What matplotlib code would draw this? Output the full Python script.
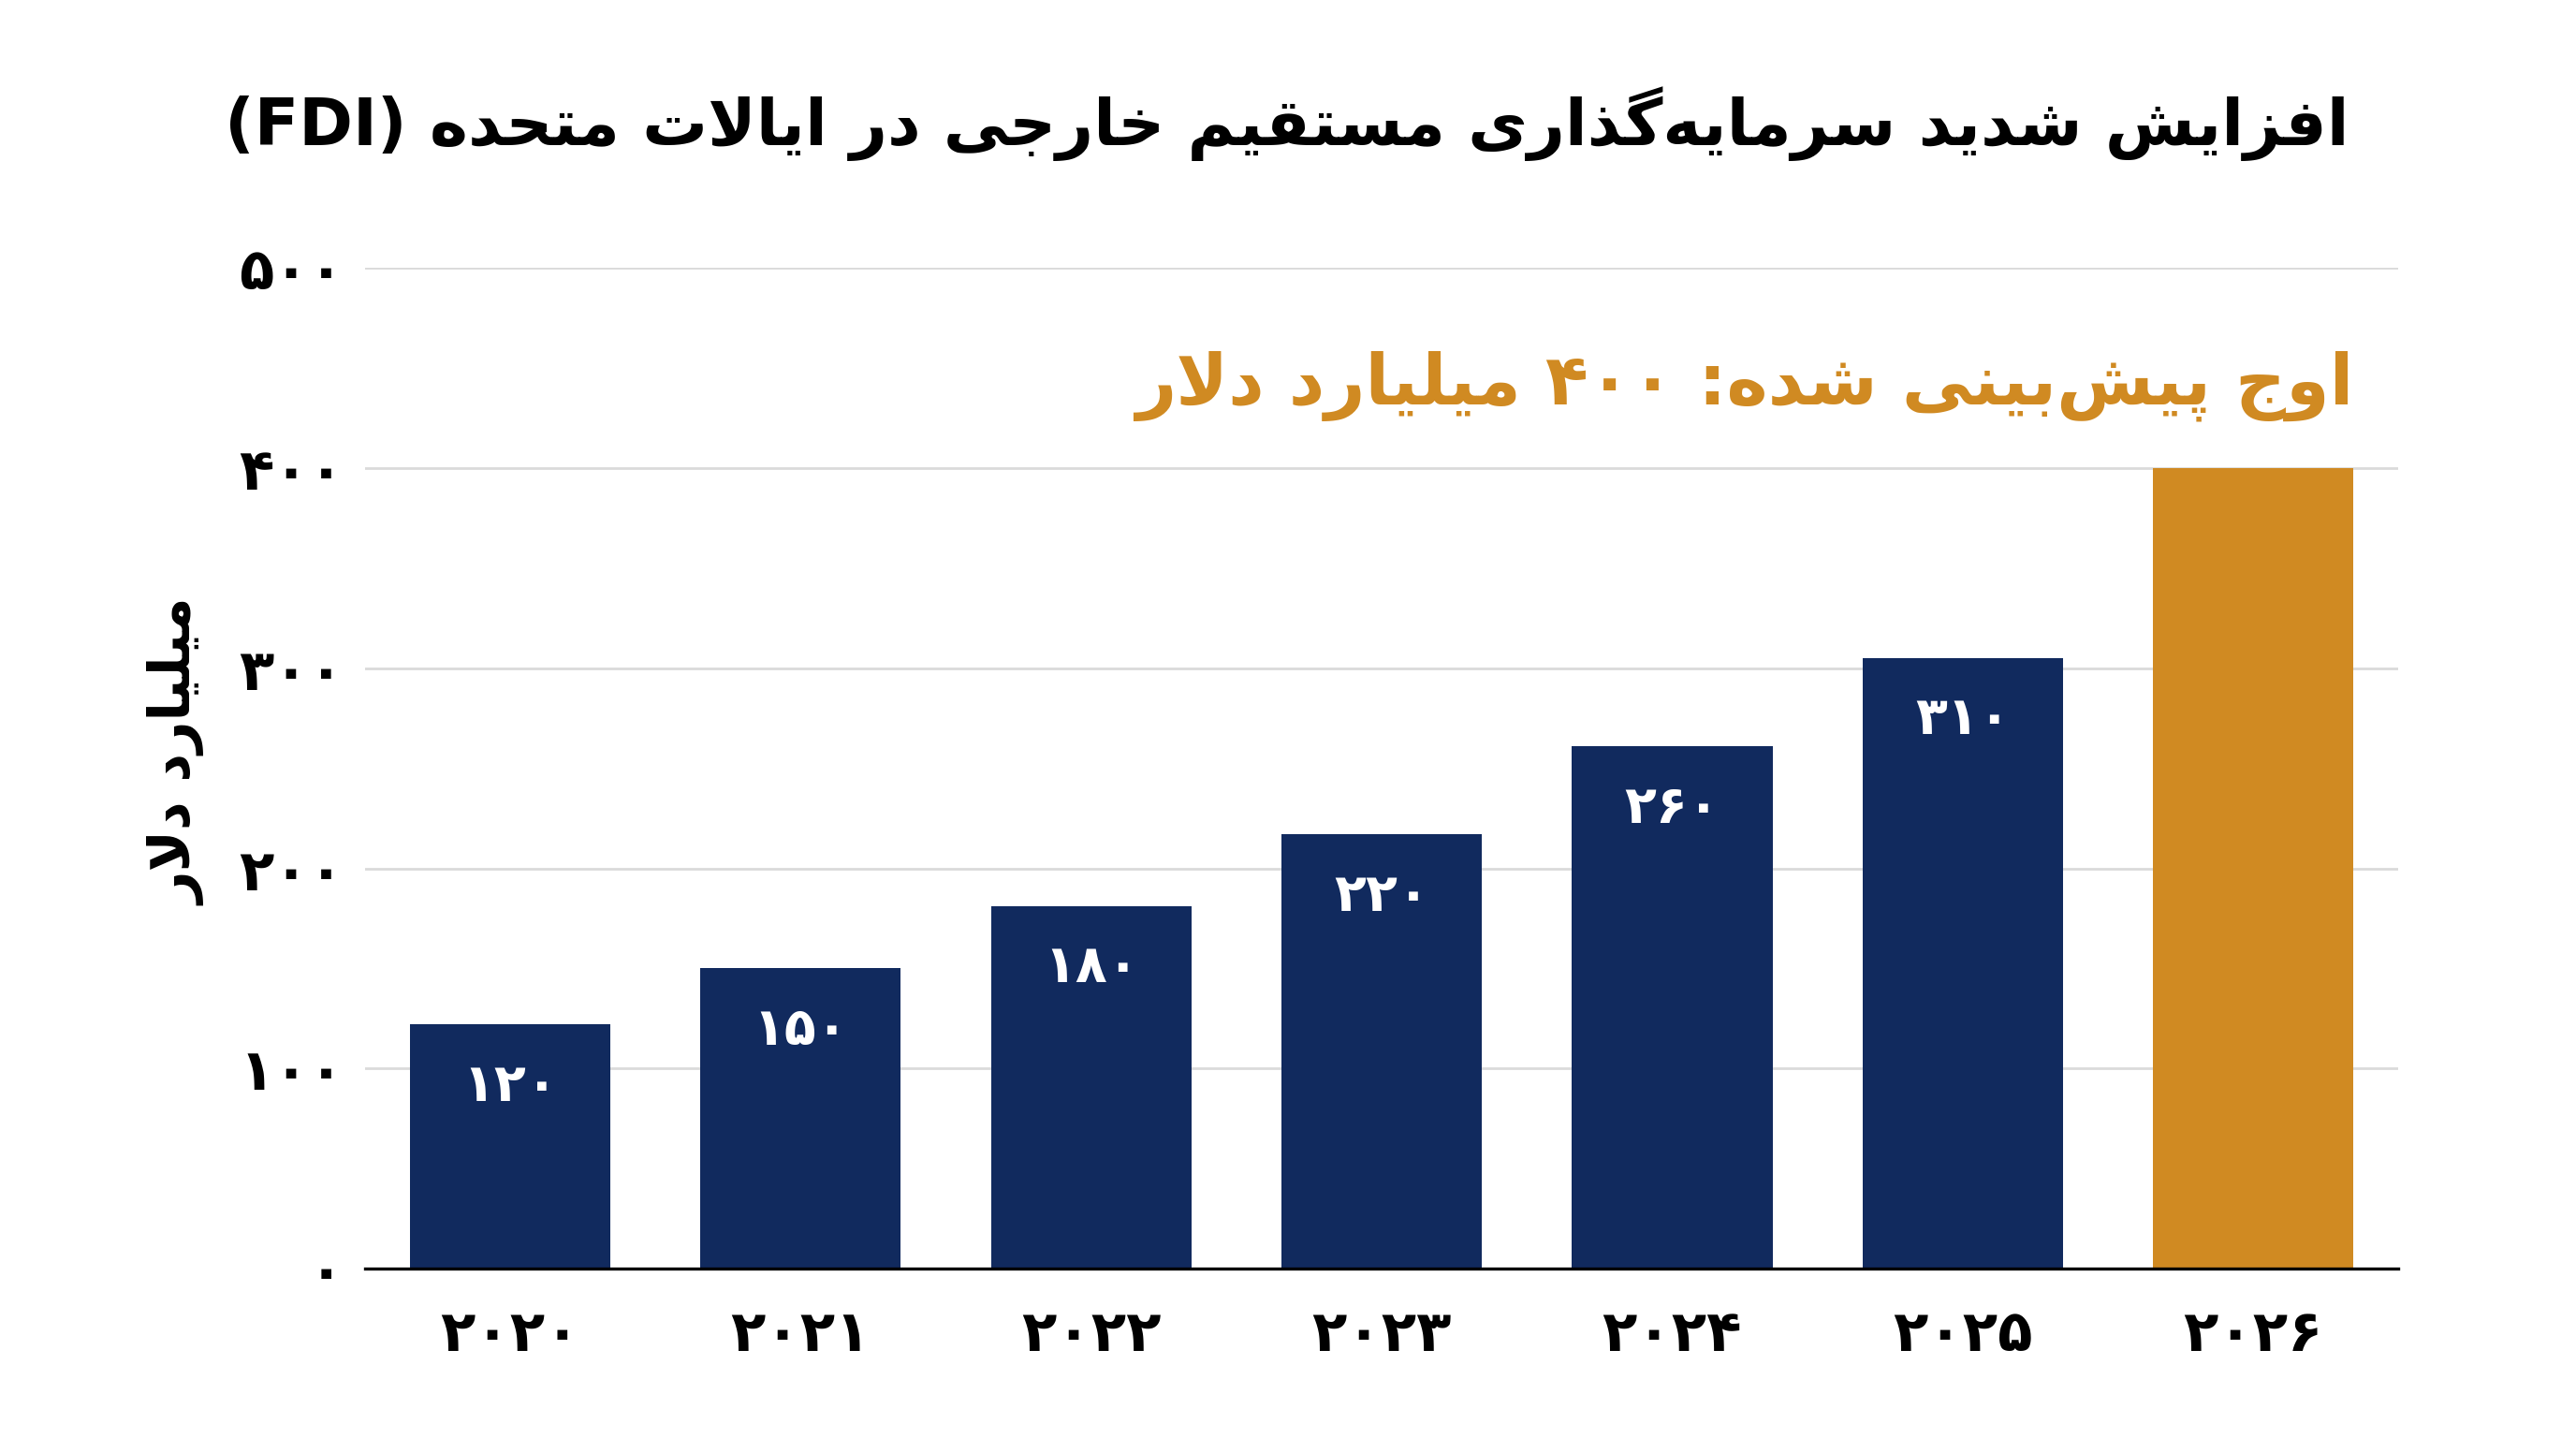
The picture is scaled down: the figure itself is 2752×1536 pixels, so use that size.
import matplotlib
matplotlib.use("Agg")
import matplotlib.pyplot as plt

# data
years = ["۲۰۲۰", "۲۰۲۱", "۲۰۲۲", "۲۰۲۳", "۲۰۲۴", "۲۰۲۵", "۲۰۲۶"]
fdi = [122, 150, 181, 217, 261, 305, 400]
bar_labels = ["۱۲۰", "۱۵۰", "۱۸۰", "۲۲۰", "۲۶۰", "۳۱۰", ""]
yticks = [0, 100, 200, 300, 400, 500]
ytick_labels = ["۰", "۱۰۰", "۲۰۰", "۳۰۰", "۴۰۰", "۵۰۰"]

title = "افزایش شدید سرمایه\u200cگذاری مستقیم خارجی در ایالات متحده (FDI)"
peak_note = "اوج پیش\u200cبینی شده: ۴۰۰ میلیارد دلار"
ylabel = "میلیارد دلار"

NAVY = "#112A5E"
ORANGE = "#D08A22"

# --- minimal arabic/persian shaping (no arabic_reshaper available) ---
# letter: (isolated, final, initial, medial); None for initial/medial -> right-joining only
FORMS = {
    "ا": ("\uFE8D", "\uFE8E", None, None),
    "آ": ("\uFE81", "\uFE82", None, None),
    "ب": ("\uFE8F", "\uFE90", "\uFE91", "\uFE92"),
    "پ": ("\uFB56", "\uFB57", "\uFB58", "\uFB59"),
    "ت": ("\uFE95", "\uFE96", "\uFE97", "\uFE98"),
    "ث": ("\uFE99", "\uFE9A", "\uFE9B", "\uFE9C"),
    "ج": ("\uFE9D", "\uFE9E", "\uFE9F", "\uFEA0"),
    "چ": ("\uFB7A", "\uFB7B", "\uFB7C", "\uFB7D"),
    "ح": ("\uFEA1", "\uFEA2", "\uFEA3", "\uFEA4"),
    "خ": ("\uFEA5", "\uFEA6", "\uFEA7", "\uFEA8"),
    "د": ("\uFEA9", "\uFEAA", None, None),
    "ذ": ("\uFEAB", "\uFEAC", None, None),
    "ر": ("\uFEAD", "\uFEAE", None, None),
    "ز": ("\uFEAF", "\uFEB0", None, None),
    "ژ": ("\uFB8A", "\uFB8B", None, None),
    "س": ("\uFEB1", "\uFEB2", "\uFEB3", "\uFEB4"),
    "ش": ("\uFEB5", "\uFEB6", "\uFEB7", "\uFEB8"),
    "ع": ("\uFEC9", "\uFECA", "\uFECB", "\uFECC"),
    "ف": ("\uFED1", "\uFED2", "\uFED3", "\uFED4"),
    "ق": ("\uFED5", "\uFED6", "\uFED7", "\uFED8"),
    "ک": ("\uFB8E", "\uFB8F", "\uFB90", "\uFB91"),
    "گ": ("\uFB92", "\uFB93", "\uFB94", "\uFB95"),
    "ل": ("\uFEDD", "\uFEDE", "\uFEDF", "\uFEE0"),
    "م": ("\uFEE1", "\uFEE2", "\uFEE3", "\uFEE4"),
    "ن": ("\uFEE5", "\uFEE6", "\uFEE7", "\uFEE8"),
    "ه": ("\uFEE9", "\uFEEA", "\uFEEB", "\uFEEC"),
    "و": ("\uFEED", "\uFEEE", None, None),
    "ی": ("\uFBFC", "\uFBFD", "\uFBFE", "\uFBFF"),
}
MIRROR = {"(": ")", ")": "("}


def shape(text):
    chars = list(text)
    out = []
    n = len(chars)
    i = 0
    while i < n:
        c = chars[i]
        prev = chars[i - 1] if i > 0 else ""
        joins_prev = prev in FORMS and FORMS[prev][2] is not None and c in FORMS
        # lam + alef ligature
        if c == "ل" and i + 1 < n and chars[i + 1] == "ا":
            out.append("\uFEFC" if joins_prev else "\uFEFB")
            i += 2
            continue
        if c in FORMS:
            nxt = chars[i + 1] if i + 1 < n else ""
            joins_next = FORMS[c][2] is not None and nxt in FORMS
            iso, fin, ini, med = FORMS[c]
            if joins_prev and joins_next:
                out.append(med)
            elif joins_prev:
                out.append(fin)
            elif joins_next:
                out.append(ini)
            else:
                out.append(iso)
        elif c != "\u200c":
            out.append(c)
        i += 1
    return "".join(out)


def is_ltr(c):
    return c.isascii() and c.isalnum() or "\u06F0" <= c <= "\u06F9"


def rtl(text):
    s = shape(text)
    runs = []
    for c in s:
        kind = is_ltr(c)
        if runs and runs[-1][0] == kind:
            runs[-1][1].append(c)
        else:
            runs.append([kind, [c]])
    vis = []
    for kind, cs in reversed(runs):
        if kind:
            vis.append("".join(cs))
        else:
            vis.append("".join(MIRROR.get(c, c) for c in reversed(cs)))
    return "".join(vis)


plt.rcParams["font.family"] = ["DejaVu Sans"]
plt.rcParams["font.weight"] = "bold"

fig = plt.figure(figsize=(13.76, 7.68), dpi=200, facecolor="white")
ax = fig.add_axes([0.1416, 0.1178, 0.7895, 0.6957])

x = list(range(len(years)))
colors = [NAVY] * 6 + [ORANGE]
bars = ax.bar(x, fdi, width=0.69, color=colors, zorder=3)

for b, lab in zip(bars, bar_labels):
    if lab:
        ax.text(b.get_x() + b.get_width() / 2, b.get_height() - 31, lab,
                ha="center", va="center", color="white", fontsize=20, fontweight="bold")

ax.set_xlim(-0.5, 6.5)
ax.set_ylim(0, 500)
ax.set_yticks(yticks)
ax.set_yticklabels(ytick_labels)
ax.set_xticks(x)
ax.set_xticklabels(years)
ax.tick_params(axis="y", length=0, pad=8, labelsize=22)
ax.tick_params(axis="x", length=0, pad=15, labelsize=22)
ax.grid(axis="y", color="#DADADA", linewidth=1.0, zorder=0)
for side in ["left", "right", "top"]:
    ax.spines[side].set_visible(False)
ax.spines["bottom"].set_color("black")
ax.spines["bottom"].set_linewidth(1.2)
ax.spines["bottom"].set_zorder(4)

ax.set_ylabel(rtl(ylabel), fontsize=21.5, fontweight="bold")
ax.yaxis.set_label_coords(-0.078, 0.516)

fig.text(0.912, 0.914, rtl(title), ha="right", va="center", fontsize=25,
         fontweight="bold", color="black")
ax.text(6 + 0.345, 441, rtl(peak_note), ha="right", va="center", fontsize=27,
        fontweight="bold", color=ORANGE)

fig.savefig("out.png", dpi=200, facecolor="white")
